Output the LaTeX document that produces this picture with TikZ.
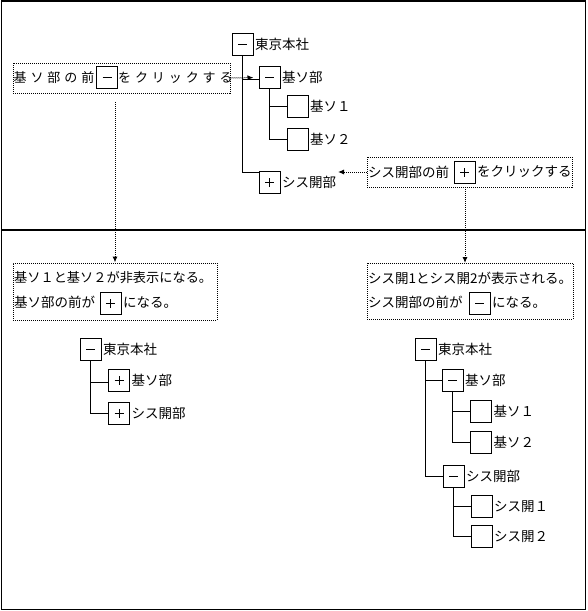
\documentclass[tikz,border=0pt]{standalone}
\usepackage{fontspec}
\setmainfont{Noto Sans CJK JP}
\newfontfamily\widefont[LetterSpace=30]{Noto Sans CJK JP}
\usetikzlibrary{arrows.meta}
\tikzset{
  tbox/.style={draw, line width=1pt, minimum width=21pt, minimum height=22pt, inner sep=0pt},
  minusbox/.style={tbox, path picture={\draw[line width=1pt] ([xshift=-4.5pt]path picture bounding box.center) -- ([xshift=4.5pt]path picture bounding box.center);}},
  plusbox/.style={tbox, path picture={\draw[line width=1pt] ([xshift=-4.5pt]path picture bounding box.center) -- ([xshift=4.5pt]path picture bounding box.center) ([yshift=-4.5pt]path picture bounding box.center) -- ([yshift=4.5pt]path picture bounding box.center);}},
  lbl/.style={anchor=west, inner xsep=1.5pt, inner ysep=0pt},
  txt/.style={anchor=west, inner sep=0pt},
  callout/.style={draw, line width=1pt, dash pattern=on 1pt off 1pt, inner sep=0pt},
  tree/.style={line width=1pt},
  hint/.style={line width=1pt, dash pattern=on 1pt off 1pt, -{Latex[length=6pt,width=5pt]}},
  frame/.style={line width=1.2pt}
}
\begin{document}
\begin{tikzpicture}[x=1pt, y=-1pt, font=\fontsize{13.5}{16}\selectfont]
\useasboundingbox (0,0) rectangle (587,611);
% frame
\draw[frame] (1.5,1) rectangle (585.5,609.5);
\draw[frame] (1.5,230) -- (585.5,230);

% ---------- top tree ----------
\node[minusbox] (r1) at (242.5,44) {};
\node[lbl] (r1t) at (r1.east) {東京本社};
\node[minusbox] (k1) at (269.5,77.5) {};
\node[lbl] (k1t) at (k1.east) {基ソ部};
\node[tbox] (k11) at (297.5,106.5) {};
\node[lbl] (k11t) at (k11.east) {基ソ１};
\node[tbox] (k12) at (297.5,139) {};
\node[lbl] (k12t) at (k12.east) {基ソ２};
\node[plusbox] (s1) at (269.5,182.5) {};
\node[lbl] (s1t) at (s1.east) {シス開部};
\draw[tree] (r1.south) |- ([yshift=-1.5pt]k1.west);
\draw[tree] (r1.south) |- ([yshift=-1pt]s1.north west);
\draw[tree] (k1.south) |- (k11.west);
\draw[tree] (k1.south) |- (k12.west);

% left callout (top)
\node[callout, minimum width=217pt, minimum height=30pt] (c1) at (121.5,78) {};
\node[txt] (c1a) at (13.5,78) {\widefont\fontsize{13}{16}\selectfont 基ソ部の前};
\node[minusbox] (m1) at (107,77.5) {};
\node[txt] (c1b) at (118,78) {\widefont\fontsize{13}{16}\selectfont をクリックする};
\draw[hint, shorten >=5pt] (c1.east) -- (k1.west);

% right callout (top)
\node[callout, minimum width=205pt, minimum height=30pt] (c2) at (469.5,172) {};
\node[txt] (c2a) at (368,172) {シス開部の前};
\node[plusbox] (p2) at (464.5,172) {};
\node[txt] (c2b) at (477,172) {をクリックする};
\coordinate (a2end) at (338,172);
\draw[hint] (c2.west) -- (a2end);

% ---------- bottom left ----------
\node[callout, minimum width=204pt, minimum height=57pt] (b1) at (115,291.5) {};
\node[txt] (b1a) at (14,278) {\fontsize{13.2}{16}\selectfont 基ソ１と基ソ２が非表示になる。};
\node[txt] (b1b) at (14,302) {基ソ部の前が};
\node[plusbox] (p3) at (110.5,303.5) {};
\node[txt] (b1c) at (123,302) {になる。};
\coordinate (d1a) at (115,102);
\draw[hint] (d1a) -- (b1.north);

\node[minusbox] (r2) at (90.5,349) {};
\node[lbl] (r2t) at (r2.east) {東京本社};
\node[plusbox] (k2) at (119,380) {};
\node[lbl] (k2t) at (k2.east) {基ソ部};
\node[plusbox] (s2) at (119,413) {};
\node[lbl] (s2t) at (s2.east) {シス開部};
\draw[tree] (r2.south) |- ([yshift=-2pt]k2.west);
\draw[tree] (r2.south) |- (s2.west);

% ---------- bottom right ----------
\node[callout, minimum width=206pt, minimum height=56pt] (b2) at (470,291) {};
\node[txt] (b2a) at (368,278) {シス開1とシス開2が表示される。};
\node[txt] (b2b) at (368,302) {シス開部の前が};
\node[minusbox] (m4) at (479.5,303.5) {};
\node[txt] (b2c) at (492,302) {になる。};
\coordinate (d2a) at (465,187);
\coordinate (d2b) at (465,263);
\draw[hint] (d2a) -- (d2b);

\node[minusbox] (r3) at (425.5,349) {};
\node[lbl] (r3t) at (r3.east) {東京本社};
\node[minusbox] (k3) at (452.5,380) {};
\node[lbl] (k3t) at (k3.east) {基ソ部};
\node[tbox] (k31) at (481,411) {};
\node[lbl] (k31t) at (k31.east) {基ソ１};
\node[tbox] (k32) at (481,442) {};
\node[lbl] (k32t) at (k32.east) {基ソ２};
\node[minusbox] (s3) at (453.5,476) {};
\node[lbl] (s3t) at (s3.east) {シス開部};
\node[tbox] (s31) at (481.5,506.5) {};
\node[lbl] (s31t) at (s31.east) {シス開１};
\node[tbox] (s32) at (481.5,536.5) {};
\node[lbl] (s32t) at (s32.east) {シス開２};
\draw[tree] (r3.south) |- (k3.west);
\draw[tree] (r3.south) |- (s3.west);
\draw[tree] (k3.south) |- (k31.west);
\draw[tree] (k3.south) |- (k32.west);
\draw[tree] (s3.south) |- (s31.west);
\draw[tree] (s3.south) |- (s32.west);
\end{tikzpicture}
\end{document}
